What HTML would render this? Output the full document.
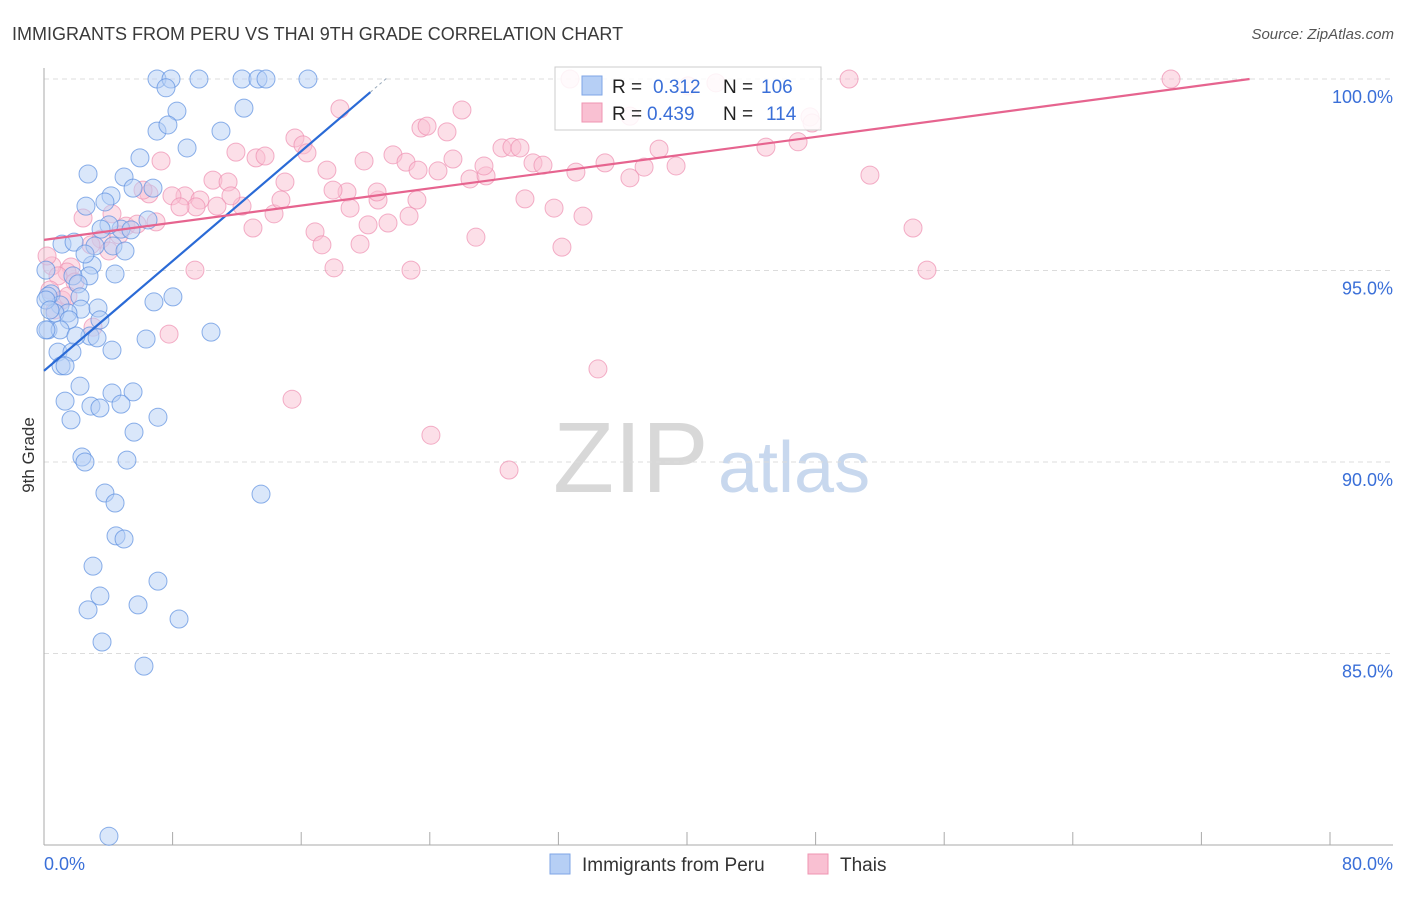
<!DOCTYPE html>
<html><head><meta charset="utf-8"><style>
body{margin:0;background:#fff;font-family:"Liberation Sans",sans-serif;}
svg text{font-family:"Liberation Sans",sans-serif;}
</style></head><body>
<svg id="chart" width="1406" height="892" xmlns="http://www.w3.org/2000/svg">
<text x="12" y="40" font-size="18" fill="#3a3a3a">IMMIGRANTS FROM PERU VS THAI 9TH GRADE CORRELATION CHART</text>
<text x="1394" y="39" font-size="15" fill="#555" text-anchor="end" font-style="italic">Source: ZipAtlas.com</text>
<g>
<text x="553" y="492" font-size="100" fill="#d8d8d8" font-family="Liberation Serif,serif">ZIP</text>
<text x="718" y="492" font-size="72" fill="#c8d8ee">atlas</text>
</g>
<g id="grid"></g>
<g id="axes"></g>
<g id="pts"></g>
<g id="trend"></g>
<text transform="translate(34,455) rotate(-90)" font-size="17" fill="#333" text-anchor="middle">9th Grade</text>
<g>
<rect x="555" y="67" width="266" height="63" fill="#fff" fill-opacity="0.85" stroke="#ccc"/>
<rect x="582" y="76" width="20" height="19" fill="#b6cff5" stroke="#7fa6e6"/>
<rect x="582" y="103" width="20" height="19" fill="#f9c0d2" stroke="#ef94b2"/>
<text x="612" y="93" font-size="19" fill="#222">R = </text><text x="653" y="93" font-size="19" fill="#3a6fd8">0.312</text>
<text x="723" y="93" font-size="19" fill="#222">N = </text><text x="761" y="93" font-size="19" fill="#3a6fd8">106</text>
<text x="612" y="120" font-size="19" fill="#222">R = </text><text x="647" y="120" font-size="19" fill="#3a6fd8">0.439</text>
<text x="723" y="120" font-size="19" fill="#222">N = </text><text x="766" y="120" font-size="19" fill="#3a6fd8">114</text>
</g>
<g>
<rect x="550" y="854" width="20" height="20" fill="#b6cff5" stroke="#7fa6e6"/>
<text x="582" y="871" font-size="19" fill="#333">Immigrants from Peru</text>
<rect x="808" y="854" width="20" height="20" fill="#f9c0d2" stroke="#ef94b2"/>
<text x="840" y="871" font-size="19" fill="#333">Thais</text>
</g>
</svg>
<script>
const yTicks=[100,95,90,85];
const xTickLabels=["0.0%","80.0%"];
const peruPx=[[157,79],[171,79],[199,79],[242,79],[258,79],[266,79],[308,79],[166,88],[177,111],[221,131],[157,131],[168,125],[244,108],[140,158],[187,148],[88,174],[124,177],[133,188],[153,188],[111,196],[105,202],[86,206],[148,220],[121,229],[109,225],[101,229],[131,230],[113,246],[95,246],[125,251],[62,244],[74,242],[92,265],[89,276],[73,276],[115,274],[78,284],[80,297],[51,294],[60,305],[48,296],[81,309],[98,308],[68,313],[55,313],[100,320],[69,320],[48,330],[60,330],[90,336],[76,336],[97,338],[112,350],[58,352],[72,352],[61,366],[65,366],[80,386],[112,393],[133,392],[65,401],[91,406],[100,408],[121,404],[71,420],[158,417],[134,432],[82,457],[85,462],[127,460],[105,493],[115,503],[261,494],[116,536],[124,539],[93,566],[158,581],[100,596],[88,610],[138,605],[179,619],[102,642],[144,666],[109,836],[154,302],[173,297],[211,332],[146,339],[85,254],[46,300],[46,270],[46,330],[50,310]];
const thaiPx=[[570,79],[849,79],[1171,79],[688,86],[716,83],[340,109],[462,110],[295,138],[303,145],[307,153],[236,152],[256,158],[265,156],[161,161],[421,128],[427,126],[447,132],[364,161],[393,155],[406,162],[453,159],[502,148],[512,147],[520,148],[533,163],[543,165],[576,172],[605,163],[644,167],[659,149],[676,166],[766,147],[798,142],[810,117],[812,123],[870,175],[630,178],[630,116],[327,170],[347,192],[285,182],[213,180],[228,182],[185,196],[172,196],[200,200],[149,194],[143,190],[83,218],[112,214],[126,226],[156,222],[137,224],[119,235],[101,239],[91,245],[71,267],[67,272],[109,251],[253,228],[274,214],[281,200],[242,206],[231,196],[217,206],[196,207],[180,207],[315,232],[322,245],[350,208],[333,190],[378,200],[377,192],[368,225],[360,244],[388,223],[417,200],[409,216],[334,268],[411,270],[525,199],[554,208],[583,216],[562,247],[476,237],[470,179],[486,176],[484,166],[418,170],[438,171],[913,228],[927,270],[195,270],[169,334],[93,327],[292,399],[431,435],[598,369],[509,470],[52,266],[58,276],[50,290],[62,300],[47,256],[75,282],[55,310],[68,296]];
// convert read positions into data values (x: %, y: %)
const peruX=peruPx.map(p=>+((p[0]-44)/16.075).toFixed(2));
const peruY=peruPx.map(p=>+(100-(p[1]-79)/38.3).toFixed(2));
const thaiX=thaiPx.map(p=>+((p[0]-44)/16.075).toFixed(2));
const thaiY=thaiPx.map(p=>+(100-(p[1]-79)/38.3).toFixed(2));
const peruTrend=[92.38,0.3584]; // intercept, slope
const thaiTrend=[95.80,0.056];
const X=v=>44+v*16.075, Y=v=>79+(100-v)*38.3;
const NS="http://www.w3.org/2000/svg";
function mk(tag,attrs,parent){const e=document.createElementNS(NS,tag);for(const k in attrs)e.setAttribute(k,attrs[k]);parent.appendChild(e);return e;}
const grid=document.getElementById('grid'),axes=document.getElementById('axes');
yTicks.forEach(t=>{
 const l=mk('line',{x1:44,x2:1393,y1:Y(t),y2:Y(t),stroke:'#dcdcdc','stroke-dasharray':'5,4'},grid);
 
 
 const tx=mk('text',{x:1393,y:Y(t)+24,'font-size':18,fill:'#3a6fd8','text-anchor':'end'},axes);
 tx.textContent=t.toFixed(1)+'%';
 
 
});
const ya=mk('line',{x1:44,x2:44,y1:68,y2:845,stroke:'#aaa'},axes);


const xa=mk('line',{x1:44,x2:1393,y1:845,y2:845,stroke:'#aaa'},axes);


for(let i=0;i<=10;i++){const t=mk('line',{x1:X(i*8),x2:X(i*8),y1:832,y2:845,stroke:'#aaa'},axes);
 
 }
[[xTickLabels[0],44,'start'],[xTickLabels[1],1393,'end']].forEach(a=>{const t=mk('text',{x:a[1],y:870,'font-size':18,fill:'#3a6fd8','text-anchor':a[2]},axes);t.textContent=a[0];
 
 });
const pts=document.getElementById('pts');
function draw(xs,ys,fill,stroke,name){xs.forEach((x,i)=>{const c=mk('circle',{cx:X(x),cy:Y(ys[i]),r:9,fill:fill,'fill-opacity':0.5,stroke:stroke,'stroke-opacity':0.7,'stroke-width':1},pts);
 
 });}
draw(thaiX,thaiY,'#f9c0d2','#ee8fb0','thai-point');
draw(peruX,peruY,'#b6cff5','#5b8fe0','peru-point');
const tr=document.getElementById('trend');
const pl=mk('line',{x1:X(0),y1:Y(peruTrend[0]),x2:X(20.3),y2:Y(peruTrend[0]+peruTrend[1]*20.3),stroke:'#2a6ad6','stroke-width':2.2},tr);


const pd=mk('line',{x1:X(20.3),y1:Y(peruTrend[0]+peruTrend[1]*20.3),x2:X(21.4),y2:Y(peruTrend[0]+peruTrend[1]*21.4),stroke:'#9ab','stroke-width':1,'stroke-dasharray':'3,3'},tr);


const tl=mk('line',{x1:X(0),y1:Y(thaiTrend[0]),x2:X(75),y2:Y(thaiTrend[0]+thaiTrend[1]*75),stroke:'#e6648f','stroke-width':2.2},tr);


</script>
</body></html>
